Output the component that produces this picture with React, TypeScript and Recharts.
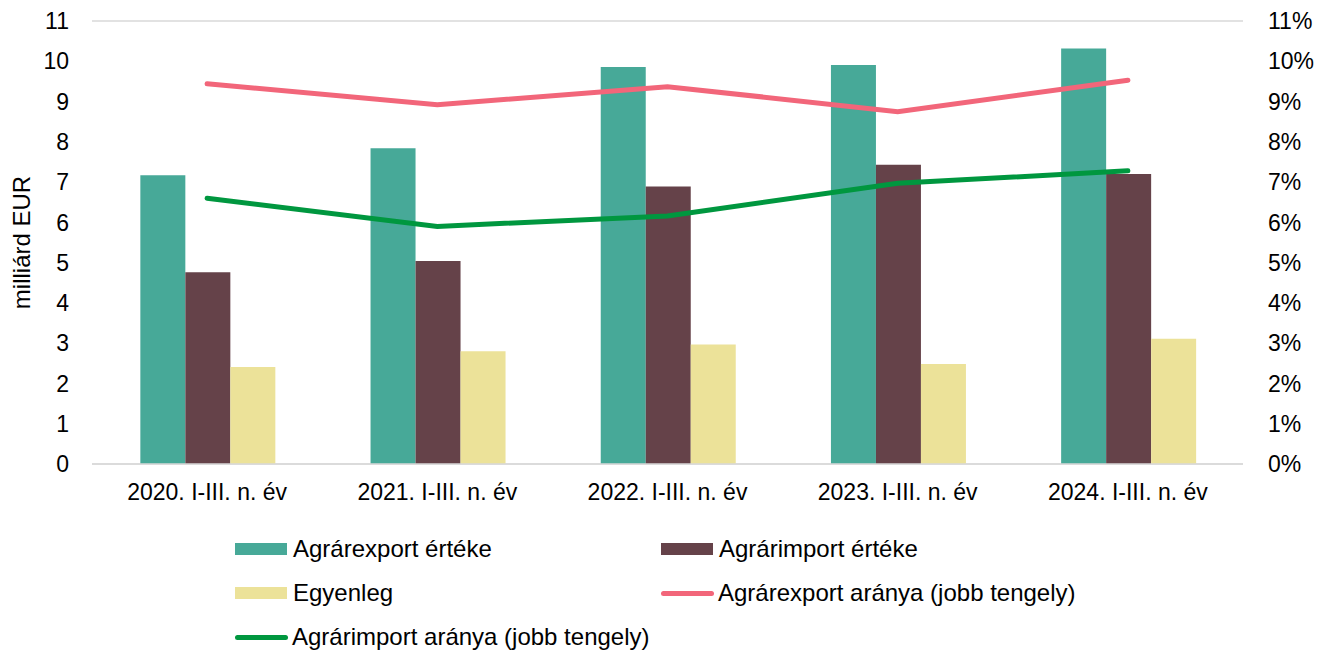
import {
  ComposedChart,
  Bar,
  Line,
  XAxis,
  YAxis,
  CartesianGrid,
  Legend,
} from "recharts";

const categories: string[] = [
  "2020. I-III. n. év",
  "2021. I-III. n. év",
  "2022. I-III. n. év",
  "2023. I-III. n. év",
  "2024. I-III. n. év",
];

// milliárd EUR
const exportValue: number[] = [7.17, 7.84, 9.86, 9.91, 10.32];
const importValue: number[] = [4.76, 5.04, 6.89, 7.43, 7.2];
const balance: number[] = [2.41, 2.8, 2.97, 2.48, 3.11];

// % (right axis)
const exportShare: number[] = [9.44, 8.92, 9.37, 8.75, 9.53];
const importShare: number[] = [6.6, 5.9, 6.16, 6.97, 7.28];

const ticks: number[] = [0, 1, 2, 3, 4, 5, 6, 7, 8, 9, 10, 11];

const data = categories.map((name, i) => ({
  name,
  exportValue: exportValue[i],
  importValue: importValue[i],
  balance: balance[i],
  exportShare: exportShare[i],
  importShare: importShare[i],
}));

const FONT = '"Liberation Sans", Arial, sans-serif';
const C_EXPORT = "#47A998";
const C_IMPORT = "#654249";
const C_BAL = "#ECE299";
const C_PINK = "#F2667A";
const C_GREEN = "#00973F";

const legendItems = [
  { label: "Agrárexport értéke", color: C_EXPORT, kind: "bar" },
  { label: "Agrárimport értéke", color: C_IMPORT, kind: "bar" },
  { label: "Egyenleg", color: C_BAL, kind: "bar" },
  { label: "Agrárexport aránya (jobb tengely)", color: C_PINK, kind: "line" },
  { label: "Agrárimport aránya (jobb tengely)", color: C_GREEN, kind: "line" },
];

const MyLegend = () => (
  <div
    style={{
      height: 140,
      position: "relative",
      fontFamily: FONT,
      fontSize: 24,
      color: "#000",
    }}
  >
    {legendItems.map((it, i) => {
      const col = i % 2;
      const row = Math.floor(i / 2);
      return (
        <div
          key={it.label}
          style={{
            position: "absolute",
            left: 235 + col * 426,
            top: 37 + row * 44 - 14,
            height: 28,
            display: "flex",
            alignItems: "center",
            whiteSpace: "nowrap",
          }}
        >
          {it.kind === "bar" ? (
            <span
              style={{
                display: "inline-block",
                width: 52,
                height: 12,
                background: it.color,
                marginRight: 6,
              }}
            />
          ) : (
            <span
              style={{
                display: "inline-block",
                width: 53,
                height: 5,
                borderRadius: 3,
                background: it.color,
                marginRight: 4,
              }}
            />
          )}
          {it.label}
        </div>
      );
    })}
  </div>
);

const YLabel = (props: any) => {
  const vb = props.viewBox || { x: 0, y: 0, height: 0 };
  const cx = vb.x + 21;
  const cy = vb.y + vb.height / 2;
  return (
    <text
      x={cx}
      y={cy}
      transform={`rotate(-90 ${cx} ${cy})`}
      textAnchor="middle"
      dominantBaseline="central"
      fontFamily={FONT}
      fontSize={24}
      fill="#000"
    >
      milliárd EUR
    </text>
  );
};

const tickStyle = { fontFamily: FONT, fontSize: 23, fill: "#000" };

const App = () => (
  <div style={{ position: "absolute", left: 0, top: 0 }}>
    <ComposedChart
      width={1328}
      height={652}
      data={data}
      margin={{ top: 21, right: 0, bottom: 0, left: 0 }}
      barCategoryGap="21%"
      barGap={0}
    >
      <CartesianGrid vertical={false} stroke="#d9d9d9" strokeWidth={1.4} />
      <XAxis
        dataKey="name"
        height={48}
        tickSize={0}
        tickMargin={20}
        tickLine={false}
        axisLine={{ stroke: "#d9d9d9", strokeWidth: 1.4 }}
        tick={tickStyle}
        interval={0}
      />
      <YAxis
        yAxisId="left"
        width={92}
        domain={[0, 11]}
        ticks={ticks}
        interval={0}
        tickSize={0}
        tickMargin={23}
        tickLine={false}
        axisLine={false}
        tick={tickStyle}
        label={<YLabel />}
      />
      <YAxis
        yAxisId="right"
        orientation="right"
        width={85}
        domain={[0, 11]}
        ticks={ticks}
        interval={0}
        tickSize={0}
        tickMargin={25}
        tickLine={false}
        axisLine={false}
        tick={tickStyle}
        tickFormatter={(v: number) => `${v}%`}
      />
      <Bar yAxisId="left" dataKey="exportValue" name="Agrárexport értéke" fill={C_EXPORT} isAnimationActive={false} />
      <Bar yAxisId="left" dataKey="importValue" name="Agrárimport értéke" fill={C_IMPORT} isAnimationActive={false} />
      <Bar yAxisId="left" dataKey="balance" name="Egyenleg" fill={C_BAL} isAnimationActive={false} />
      <Line
        yAxisId="right"
        dataKey="exportShare"
        name="Agrárexport aránya (jobb tengely)"
        stroke={C_PINK}
        strokeWidth={5}
        strokeLinecap="round"
        dot={false}
        activeDot={false}
        isAnimationActive={false}
      />
      <Line
        yAxisId="right"
        dataKey="importShare"
        name="Agrárimport aránya (jobb tengely)"
        stroke={C_GREEN}
        strokeWidth={5}
        strokeLinecap="round"
        dot={false}
        activeDot={false}
        isAnimationActive={false}
      />
      <Legend verticalAlign="bottom" content={<MyLegend />} />
    </ComposedChart>
  </div>
);

export default App;
